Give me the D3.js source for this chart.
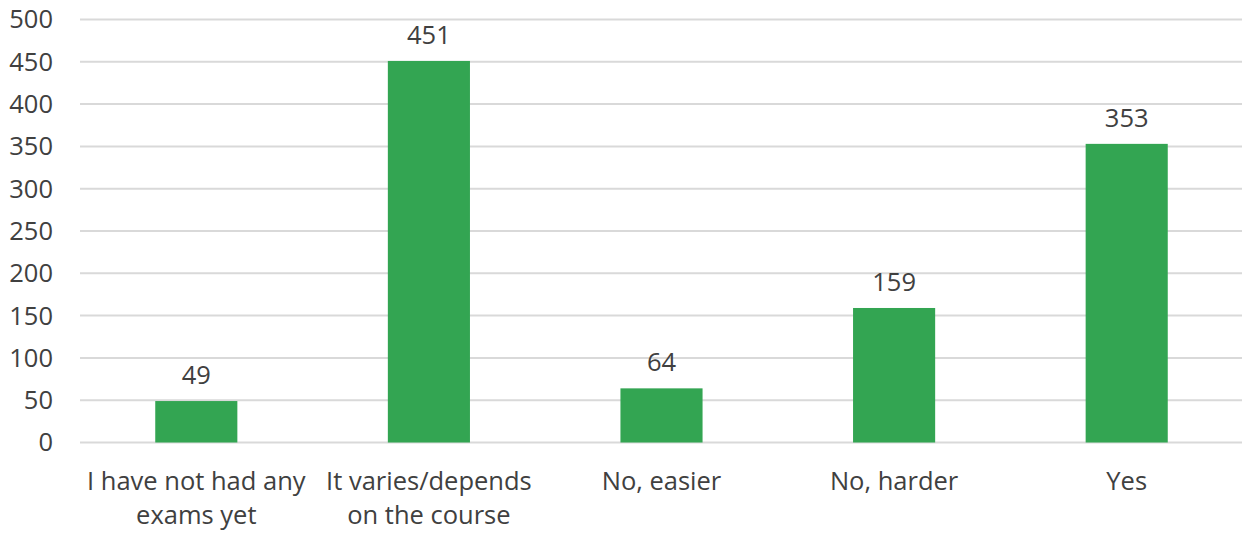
<!DOCTYPE html>
<html><head><meta charset="utf-8">
<script src="https://cdn.jsdelivr.net/npm/d3@7"></script>
<style>body{margin:0;background:#fff}svg{display:block}text{font-family:"Open Sans",sans-serif}</style>
</head><body>
<script>
const categories = ["I have not had any|exams yet","It varies/depends|on the course","No, easier","No, harder","Yes"];
const values = [49,451,64,159,353];
const yTicks = [0,50,100,150,200,250,300,350,400,450,500];

const W=1242,H=537;
const svg=d3.select("body").append("svg").attr("width",W).attr("height",H);
const x=d3.scaleBand().domain(categories).range([80,1243]).paddingInner(0.647).paddingOuter(0.3235);
const y=d3.scaleLinear().domain([0,500]).range([442.5,19.5]);
const fs=25.5, col="#404040";

svg.append("g").selectAll("line").data(yTicks).join("line")
  .attr("x1",80).attr("x2",1242).attr("y1",d=>y(d)).attr("y2",d=>y(d))
  .attr("stroke","#d9d9d9").attr("stroke-width",2);

svg.append("g").selectAll("text").data(yTicks).join("text")
  .attr("x",53).attr("y",d=>y(d)).attr("dy","0.35em").attr("text-anchor","end")
  .attr("font-size",fs).attr("fill",col).text(d=>d);

svg.append("g").selectAll("rect").data(values).join("rect")
  .attr("x",(d,i)=>x(categories[i])).attr("width",x.bandwidth())
  .attr("y",d=>y(d)).attr("height",d=>y(0)-y(d)).attr("fill","#33a552");

svg.append("g").selectAll("text").data(values).join("text")
  .attr("x",(d,i)=>x(categories[i])+x.bandwidth()/2).attr("y",d=>y(d)-17)
  .attr("text-anchor","middle").attr("font-size",fs).attr("fill",col).text(d=>d);

const cl=svg.append("g").selectAll("text").data(categories).join("text")
  .attr("x",d=>x(d)+x.bandwidth()/2).attr("y",490)
  .attr("text-anchor","middle").attr("font-size",fs).attr("fill",col);
cl.selectAll("tspan").data(d=>d.split("|")).join("tspan")
  .attr("x",function(){return this.parentNode.getAttribute("x");})
  .attr("dy",(d,i)=>i?34:0).text(d=>d);
</script>
</body></html>
